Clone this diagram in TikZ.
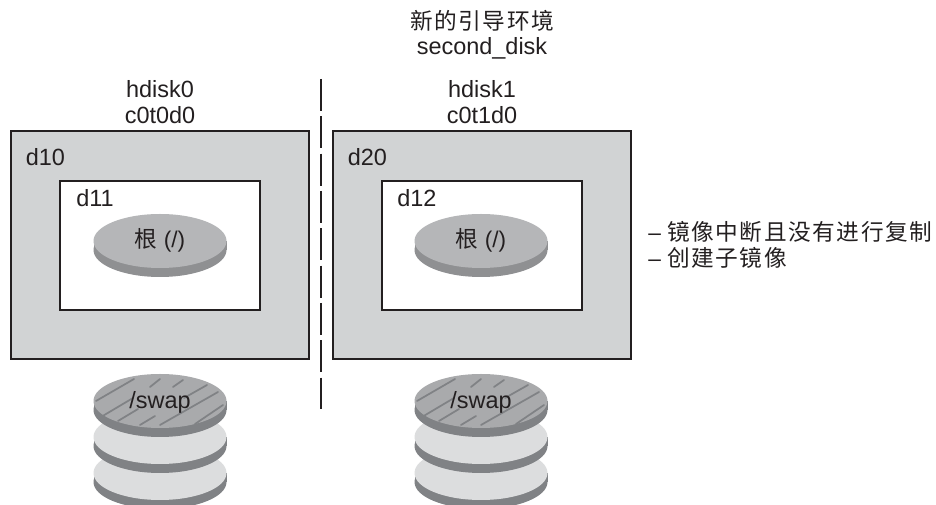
\documentclass[tikz,border=0pt]{standalone}
\usepackage{fontspec}
\setmainfont{Liberation Sans}
\newfontfamily\cjk[LetterSpace=7]{Noto Sans CJK SC}
\definecolor{inkblack}{RGB}{35, 31, 32}
\definecolor{slicegray}{RGB}{209, 211, 212}
\definecolor{rootface}{RGB}{181, 182, 184}
\definecolor{rootside}{RGB}{143, 144, 146}
\definecolor{swapface}{RGB}{169, 170, 172}
\definecolor{diskside}{RGB}{128, 130, 133}
\definecolor{diskpale}{RGB}{220, 221, 222}
\tikzset{
  x=0.75pt, y=-0.75pt,
  label/.style={font=\fontsize{17.6}{20}\selectfont, text=inkblack, inner sep=0pt},
  cjklabel/.style={font=\fontsize{17}{20}\selectfont, text=inkblack, inner sep=0pt},
  mirrorbox/.style={draw=inkblack, fill=slicegray, line width=1.1pt},
  submirror/.style={draw=inkblack, fill=white, line width=1.1pt},
  hatchline/.style={diskside, line width=1.3pt, line cap=round},
  pics/platter/.style 2 args={code={
    \fill[#1] (0, 9) ellipse[x radius=66.5, y radius=27];
    \fill[#1] (-66.5, 0) rectangle (66.5, 9);
    \fill[#2] (0, 0) ellipse[x radius=66.5, y radius=27];
  }},
  pics/hatching/.style={code={
    \draw[hatchline] (-64, 0) -- (-26, -22);
    \draw[hatchline] (-59, 16) -- (-27, -3);
    \draw[hatchline] (-10, -14) -- (0, -22);
    \draw[hatchline] (-42, 20) -- (-22, 8);
    \draw[hatchline] (13, -14) -- (23, -21);
    \draw[hatchline] (-20, 24) -- (-5, 15);
    \draw[hatchline] (24, -3) -- (47, -16);
    \draw[hatchline] (0, 24) -- (58, -9);
    \draw[hatchline] (35, 23) -- (63, 4);
  }}
}

\begin{document}
\begin{tikzpicture}
  \clip (0, 0) rectangle (936, 505);

  % Heading over the new environment
  \node[cjklabel] (bename) at (482, 21) {\cjk 新的引导环境};
  \node[label] (bedisk) at (482, 48) {second\_disk};

  % Disk names
  \node[label] (hdisk0) at (160, 89) {hdisk0};
  \node[label] (ctd0) at (160, 115) {c0t0d0};
  \node[label] (hdisk1) at (482, 89) {hdisk1};
  \node[label] (ctd1) at (482, 115) {c0t1d0};

  % Divider
  \coordinate (divtop) at (321, 79);
  \coordinate (divend) at (321, 409);
  \draw[inkblack, line width=0.9pt, dash pattern=on 24pt off 4pt] (divtop) -- (divend);

  % Left mirror
  \draw[mirrorbox] (11, 131) rectangle (309, 359);
  \node[label, anchor=west] (d10) at (25.5, 157) {d10};
  \draw[submirror] (60, 181) rectangle (260, 310);
  \node[label, anchor=west] (d11) at (76, 198) {d11};
  \pic at (160, 241) {platter={rootside}{rootface}};
  \node[cjklabel] (rootleft) at (160, 240) {{\cjk 根} (/)};

  % Right mirror
  \draw[mirrorbox] (333, 131) rectangle (631, 359);
  \node[label, anchor=west] (d20) at (347.5, 157) {d20};
  \draw[submirror] (382, 181) rectangle (582, 310);
  \node[label, anchor=west] (d12) at (397, 198) {d12};
  \pic at (481, 241) {platter={rootside}{rootface}};
  \node[cjklabel] (rootright) at (481, 240) {{\cjk 根} (/)};

  % Notes
  \node[cjklabel, anchor=west] (noteone) at (648, 232) {– {\cjk 镜像中断且没有进行复制}};
  \node[cjklabel, anchor=west] (notetwo) at (648, 258) {– {\cjk 创建子镜像}};

  % Left swap stack
  \pic at (160, 473) {platter={diskside}{diskpale}};
  \pic at (160, 437) {platter={diskside}{diskpale}};
  \pic at (160, 401) {platter={diskside}{swapface}};
  \pic at (160, 401) {hatching};
  \node[label] (swapleft) at (160, 402) {/swap};

  % Right swap stack
  \pic at (481, 473) {platter={diskside}{diskpale}};
  \pic at (481, 437) {platter={diskside}{diskpale}};
  \pic at (481, 401) {platter={diskside}{swapface}};
  \pic at (481, 401) {hatching};
  \node[label] (swapright) at (481, 402) {/swap};
\end{tikzpicture}
\end{document}
